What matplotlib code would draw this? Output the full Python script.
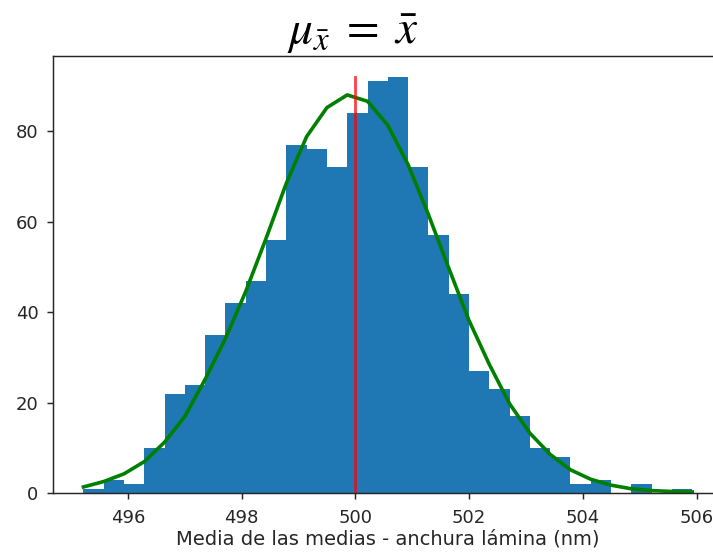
import numpy as np
import matplotlib
matplotlib.use("Agg")
import matplotlib.pyplot as plt

# Histogram of 1000 sample means (30 bins between the smallest and largest mean)
data_min = 495.22
data_max = 505.92
n_bins = 30
counts = [1, 3, 2, 10, 22, 24, 35, 42, 47, 56,
          77, 76, 72, 84, 91, 92, 72, 57, 44, 27,
          23, 17, 10, 8, 2, 3, 0, 2, 0, 1]

# Fitted normal curve, evaluated at each bin edge
curve = [1.4, 2.6, 4.3, 7.0, 11.3, 17.0, 25.2, 34.2, 44.6, 56.3,
         68.5, 78.8, 85.2, 88.0, 86.6, 81.3, 72.6, 61.6, 49.8, 38.2,
         28.5, 19.8, 13.3, 8.6, 5.2, 3.1, 1.8, 1.0, 0.6, 0.4, 0.3]

mean_of_means = 500.0
xticks = [496, 498, 500, 502, 504, 506]
yticks = [0, 20, 40, 60, 80]
xlabel = "Media de las medias - anchura lámina (nm)"
title = r"$\mu_{\bar{x}}\;=\;\bar{x}$"

plt.rcParams["mathtext.fontset"] = "stix"

W, H, DPI = 713, 556, 100
fig = plt.figure(figsize=(W / DPI, H / DPI), dpi=DPI)
left, right, bottom, top = 53, 722.6, 556 - 493.3, 556 - 56
ax = fig.add_axes([left / W, bottom / H, (right - left) / W, (top - bottom) / H])

edges = np.linspace(data_min, data_max, n_bins + 1)
ax.hist(edges[:-1], bins=edges, weights=counts, color="#1f77b4")
ax.plot(edges, curve, color="green", linewidth=2.6)
ax.plot([mean_of_means, mean_of_means], [0, max(counts)], color="red",
        linewidth=2.0, alpha=0.75)

margin = 0.05 * (data_max - data_min)
ax.set_xlim(data_min - margin, data_max + margin)
ax.set_ylim(0, max(counts) * 1.05)
ax.set_xticks(xticks)
ax.set_yticks(yticks)
ax.tick_params(labelsize=13, length=4.5, width=1.05, colors="#262626",
               labelcolor="#262626")
ax.tick_params(axis="x", pad=6.5)
ax.tick_params(axis="y", pad=6)
for s in ax.spines.values():
    s.set_linewidth(1.05)
    s.set_color("#262626")
ax.spines["right"].set_visible(False)
ax.set_xlabel(xlabel, fontsize=14, color="#262626", labelpad=2)

fig.text(353 / W, 1 - 33 / H, title, fontsize=34, ha="center", va="center")

fig.savefig("out.png", dpi=DPI)
